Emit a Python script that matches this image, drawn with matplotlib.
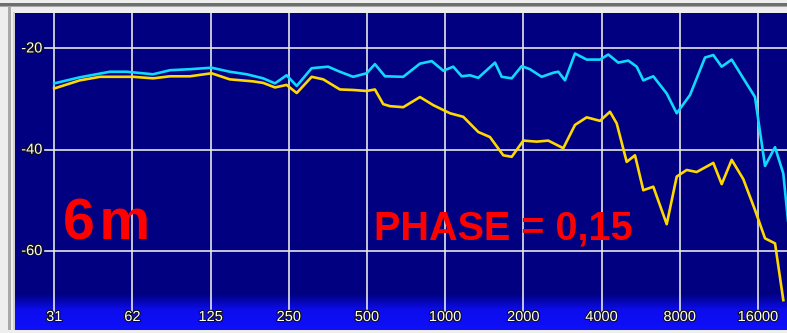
import numpy as np
import matplotlib
matplotlib.use("Agg")
import matplotlib.pyplot as plt
from matplotlib.patches import Rectangle
import matplotlib.patheffects as pe

# Response curves (frequency in Hz, level in dB) ###############
cyan_freq = [31.25, 39.2, 51.2, 59.4, 75.0, 87.2, 104, 126, 148, 172, 199, 221,
             245, 268, 306, 354, 393, 442, 498, 536, 586, 689, 799, 887, 983,
             1073, 1157, 1245, 1340, 1443, 1554, 1649, 1802, 1968, 2118, 2350,
             2604, 2723, 2889, 3157, 3502, 3940, 4241, 4634, 5063, 5456, 5784,
             6319, 7118, 7778, 8750, 9994, 10757, 11588, 12660, 14031, 15566,
             16171, 17010, 18588, 20003, 21230]
cyan_db = [-26.9, -25.7, -24.6, -24.6, -25.1, -24.3, -24.1, -23.8, -24.6, -25.1,
           -25.9, -26.9, -25.3, -27.4, -23.9, -23.6, -24.6, -25.6, -24.9, -23.1,
           -25.5, -25.6, -23.0, -22.5, -24.4, -23.6, -25.5, -25.3, -25.8, -24.3,
           -22.8, -25.6, -25.9, -23.5, -24.1, -25.6, -24.8, -24.6, -26.3, -21.0,
           -22.2, -22.2, -21.2, -22.8, -22.4, -23.6, -26.3, -25.5, -28.9, -32.8,
           -29.2, -21.8, -21.3, -23.6, -22.2, -25.9, -29.6, -35.5, -43.2, -39.5,
           -44.7, -58.0]

yellow_freq = [31.25, 39.2, 46.9, 62.9, 75.1, 87.2, 104, 126, 148, 182, 199, 221,
               245, 268, 306, 339, 393, 442, 498, 536, 577, 613, 689, 799, 899,
               1043, 1173, 1340, 1486, 1672, 1802, 1997, 2248, 2492, 2846, 3157,
               3502, 3940, 4305, 4569, 4992, 5373, 5784, 6319, 7118, 7778, 8497,
               9284, 10757, 11588, 12660, 14031, 15566, 17010, 18588, 20003]
yellow_db = [-27.9, -26.3, -25.6, -25.6, -25.9, -25.5, -25.5, -24.9, -26.1, -26.5,
             -26.8, -27.7, -27.2, -28.8, -25.6, -26.1, -28.1, -28.2, -28.4, -28.1,
             -31.0, -31.4, -31.6, -29.6, -31.2, -32.8, -33.5, -36.5, -37.5, -41.1,
             -41.4, -38.2, -38.4, -38.2, -39.7, -35.1, -33.6, -34.3, -32.5, -34.8,
             -42.4, -41.1, -48.0, -47.3, -54.7, -45.3, -44.0, -44.4, -42.6, -46.8,
             -42.0, -45.8, -51.9, -57.5, -58.5, -69.7]

octave_freqs = [31.25, 62.5, 125, 250, 500, 1000, 2000, 4000, 8000, 16000]
octave_labels = ["31", "62", "125", "250", "500", "1000", "2000", "4000", "8000", "16000"]
db_ticks = [-20, -40, -60]
################################################################

NAVY = "#000080"
W, H = 787, 333

fig = plt.figure(figsize=(W / 100, H / 100), dpi=100, facecolor="#eeeeee")

# window frame bits
fig.add_artist(Rectangle((0, (H - 6) / H), 1, 3 / H, transform=fig.transFigure,
                         color="#6e6e6e", lw=0))
fig.add_artist(Rectangle((0, (H - 7) / H), 1, 1 / H, transform=fig.transFigure,
                         color="#a8a8a8", lw=0))
fig.add_artist(Rectangle((8 / W, 3 / H), 2.5 / W, (H - 9) / H, transform=fig.transFigure,
                         color="#a9a9a9", lw=0))
fig.add_artist(Rectangle((13 / W, 3 / H), 2 / W, (H - 15) / H, transform=fig.transFigure,
                         color="#d0d0d0", lw=0))

# plot area: x 15..787 px, y 13..330 px
ax = fig.add_axes([15 / W, 3 / H, (W - 15) / W, 317 / H])
ax.set_facecolor(NAVY)
ax.set_xscale("log", base=2)
ax.set_xlim(22.07, 20670)
ax.set_ylim(-75.6, -13.0)
for s in ax.spines.values():
    s.set_visible(False)
ax.set_xticks([])
ax.set_yticks([])
ax.minorticks_off()

# bright blue band behind the frequency labels
stops_y = [0.0, 0.55, 0.85, 1.0]
stops_c = np.array([[16, 16, 250], [12, 12, 238], [4, 4, 160], [0, 0, 128]]) / 255
t = np.linspace(0, 1, 64)
grad = np.stack([np.interp(t, stops_y, stops_c[:, i]) for i in range(3)], axis=1)
ax.imshow(grad[::-1, None, :], extent=(0, 1, 0, 37 / 317), transform=ax.transAxes,
          aspect="auto", zorder=0.5, interpolation="bilinear")

grid_kw = dict(color="#e6e6e6", lw=1.2, zorder=1)
for f in octave_freqs:
    ax.axvline(f, ymin=18 / 317, ymax=1, **grid_kw)
for d in db_ticks:
    ax.axhline(d, xmin=30 / 772, xmax=1, **grid_kw)

outline = [pe.withStroke(linewidth=1.6, foreground="#101010")]
label_font = dict(family=["Liberation Sans", "DejaVu Sans"], fontsize=10.5, color="white")
for f, lab in zip(octave_freqs, octave_labels):
    ax.text(f, 13 / 317, lab, transform=ax.get_xaxis_transform(), ha="center",
            va="center", path_effects=outline, zorder=3, **label_font)
for d in db_ticks:
    ax.text(27.5 / 772, d, str(d), transform=ax.get_yaxis_transform(), ha="right",
            va="center", path_effects=outline, zorder=3, **label_font)

ax.plot(yellow_freq, yellow_db, color="#ffd800", lw=1.9, zorder=4,
        solid_joinstyle="round")
ax.plot(cyan_freq, cyan_db, color="#10d8ff", lw=1.9, zorder=5,
        solid_joinstyle="round")

big = dict(family=["Liberation Sans", "DejaVu Sans"], fontweight="bold", color="#ff0000",
           ha="left", va="baseline")
fig.text(63 / W, (H - 240) / H, "6\u200am", fontsize=41, **big)
fig.text(374 / W, (H - 240) / H, "PHASE = 0,15", fontsize=28.5, **big)

fig.savefig("out.png", dpi=100, facecolor=fig.get_facecolor())
